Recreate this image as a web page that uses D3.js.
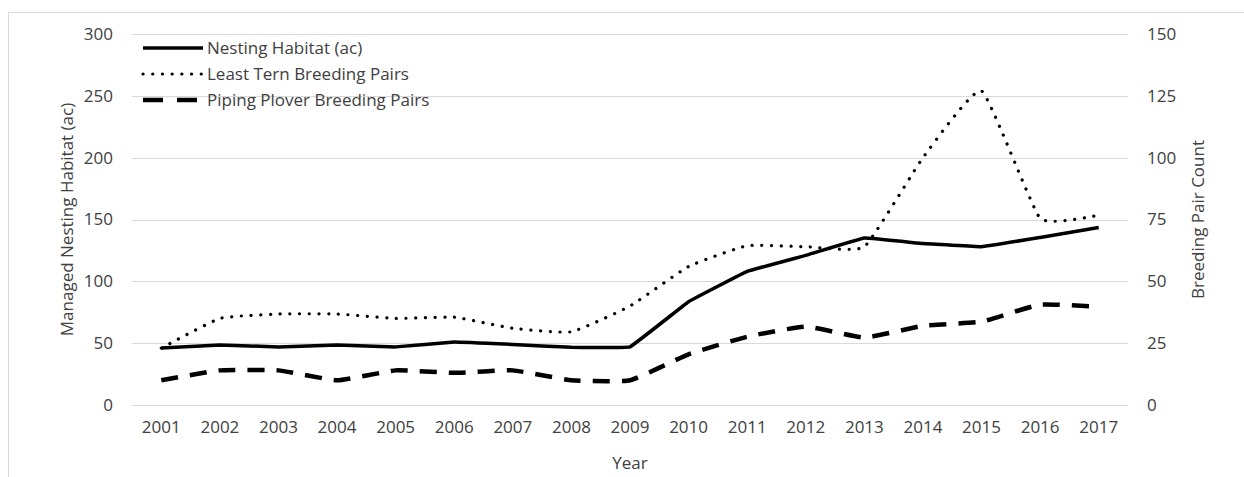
<!DOCTYPE html>
<html><head><meta charset="utf-8">
<script src="https://cdn.jsdelivr.net/npm/d3@7"></script>
<style>body{margin:0;background:#fff}svg{display:block}text{font-family:"Open Sans",sans-serif;fill:#404040}</style>
</head><body>
<svg id="c" width="1244" height="477"></svg>
<script>
const years = ["2001","2002","2003","2004","2005","2006","2007","2008","2009","2010","2011","2012","2013","2014","2015","2016","2017"];
const nestingHabitat = [46,48.5,47,48.5,47,51,49,46.6,47,83.5,108,121,135,130.5,128,135.5,143.5];
const leastTern = [23,35,36.8,36.8,35,35.5,31,29.6,40,56,64.4,64,64,100,127,75.5,76.8];
const pipingPlover = [10,14,14,10,14,13,14,10,10,20.5,27.6,31.7,27.3,32,33.7,40.6,39.7];
const leftTicks = [0,50,100,150,200,250,300];
const rightTicks = [0,25,50,75,100,125,150];
const seriesNames = ["Nesting Habitat (ac)","Least Tern Breeding Pairs","Piping Plover Breeding Pairs"];

const svg = d3.select("#c");
const m = {l:132, r:1128, t:34, b:405};
svg.append("rect").attr("x",8.5).attr("y",12.5).attr("width",1300).attr("height",600)
  .attr("fill","none").attr("stroke","#d9d9d9");

const x = d3.scaleBand().domain(years).range([m.l,m.r]);
const xc = d => x(d)+x.bandwidth()/2;
const yL = d3.scaleLinear().domain([0,300]).range([m.b,m.t]);
const yR = d3.scaleLinear().domain([0,150]).range([m.b,m.t]);

// gridlines
svg.append("g").selectAll("line").data(leftTicks).join("line")
  .attr("x1",m.l).attr("x2",m.r).attr("y1",d=>Math.round(yL(d))+0.5).attr("y2",d=>Math.round(yL(d))+0.5)
  .attr("stroke","#d9d9d9").attr("stroke-width",1);

const FS = "17px";
// axes
const axL = svg.append("g").attr("transform",`translate(${m.l-19},0)`)
  .call(d3.axisLeft(yL).tickValues(leftTicks).tickSize(0).tickPadding(0));
const axR = svg.append("g").attr("transform",`translate(${m.r+19},0)`)
  .call(d3.axisRight(yR).tickValues(rightTicks).tickSize(0).tickPadding(0));
const axB = svg.append("g").attr("transform",`translate(0,${m.b+16})`)
  .call(d3.axisBottom(x).tickSize(0).tickPadding(0));
[axL,axR,axB].forEach(a=>{a.select(".domain").remove();a.selectAll("text").style("font-size",FS).style("font-family","'Open Sans',sans-serif").attr("fill","#3a3a3a");});

// axis titles
svg.append("text").attr("x",(m.l+m.r)/2).attr("y",469).attr("text-anchor","middle").style("font-size",FS).attr("fill","#3a3a3a").text("Year");
svg.append("text").attr("transform",`translate(73,${(m.t+m.b)/2}) rotate(-90)`).attr("text-anchor","middle").style("font-size",FS).attr("fill","#3a3a3a").text("Managed Nesting Habitat (ac)");
svg.append("text").attr("transform",`translate(1204,${(m.t+m.b)/2}) rotate(-90)`).attr("text-anchor","middle").style("font-size",FS).attr("fill","#3a3a3a").text("Breeding Pair Count");

// lines
const curve = d3.curveCardinal.tension(0.6);
const lineL = d3.line().x((d,i)=>xc(years[i])).y(d=>yL(d)).curve(d3.curveCardinal.tension(0.85));
const lineR = d3.line().x((d,i)=>xc(years[i])).y(d=>yR(d)).curve(curve);
const styles = [
  {w:3.5, dash:null, cap:"butt"},
  {w:3.2, dash:"0.1 9.6", cap:"round"},
  {w:4.5, dash:"17 12", cap:"butt"}
];
svg.append("path").attr("d",lineL(nestingHabitat)).attr("fill","none").attr("stroke","#000").attr("stroke-width",styles[0].w).attr("stroke-linejoin","round");
svg.append("path").attr("d",lineR(leastTern)).attr("fill","none").attr("stroke","#000").attr("stroke-width",styles[1].w).attr("stroke-dasharray",styles[1].dash).attr("stroke-linecap","round");
svg.append("path").attr("d",lineR(pipingPlover)).attr("fill","none").attr("stroke","#000").attr("stroke-width",styles[2].w).attr("stroke-dasharray",styles[2].dash);

// legend
const lg = svg.append("g");
seriesNames.forEach((n,i)=>{
  const yy = 48 + i*26;
  lg.append("line").attr("x1",143).attr("x2",203).attr("y1",yy).attr("y2",yy)
    .attr("stroke","#000").attr("stroke-width",styles[i].w).attr("stroke-dasharray",styles[i].dash ? (i==1?"0.1 9.6":"20 14"):null)
    .attr("stroke-linecap",styles[i].cap);
  lg.append("text").attr("x",207).attr("y",yy).attr("dy","0.35em").style("font-size",FS).attr("fill","#262626").text(n);
});
</script>
</body></html>
